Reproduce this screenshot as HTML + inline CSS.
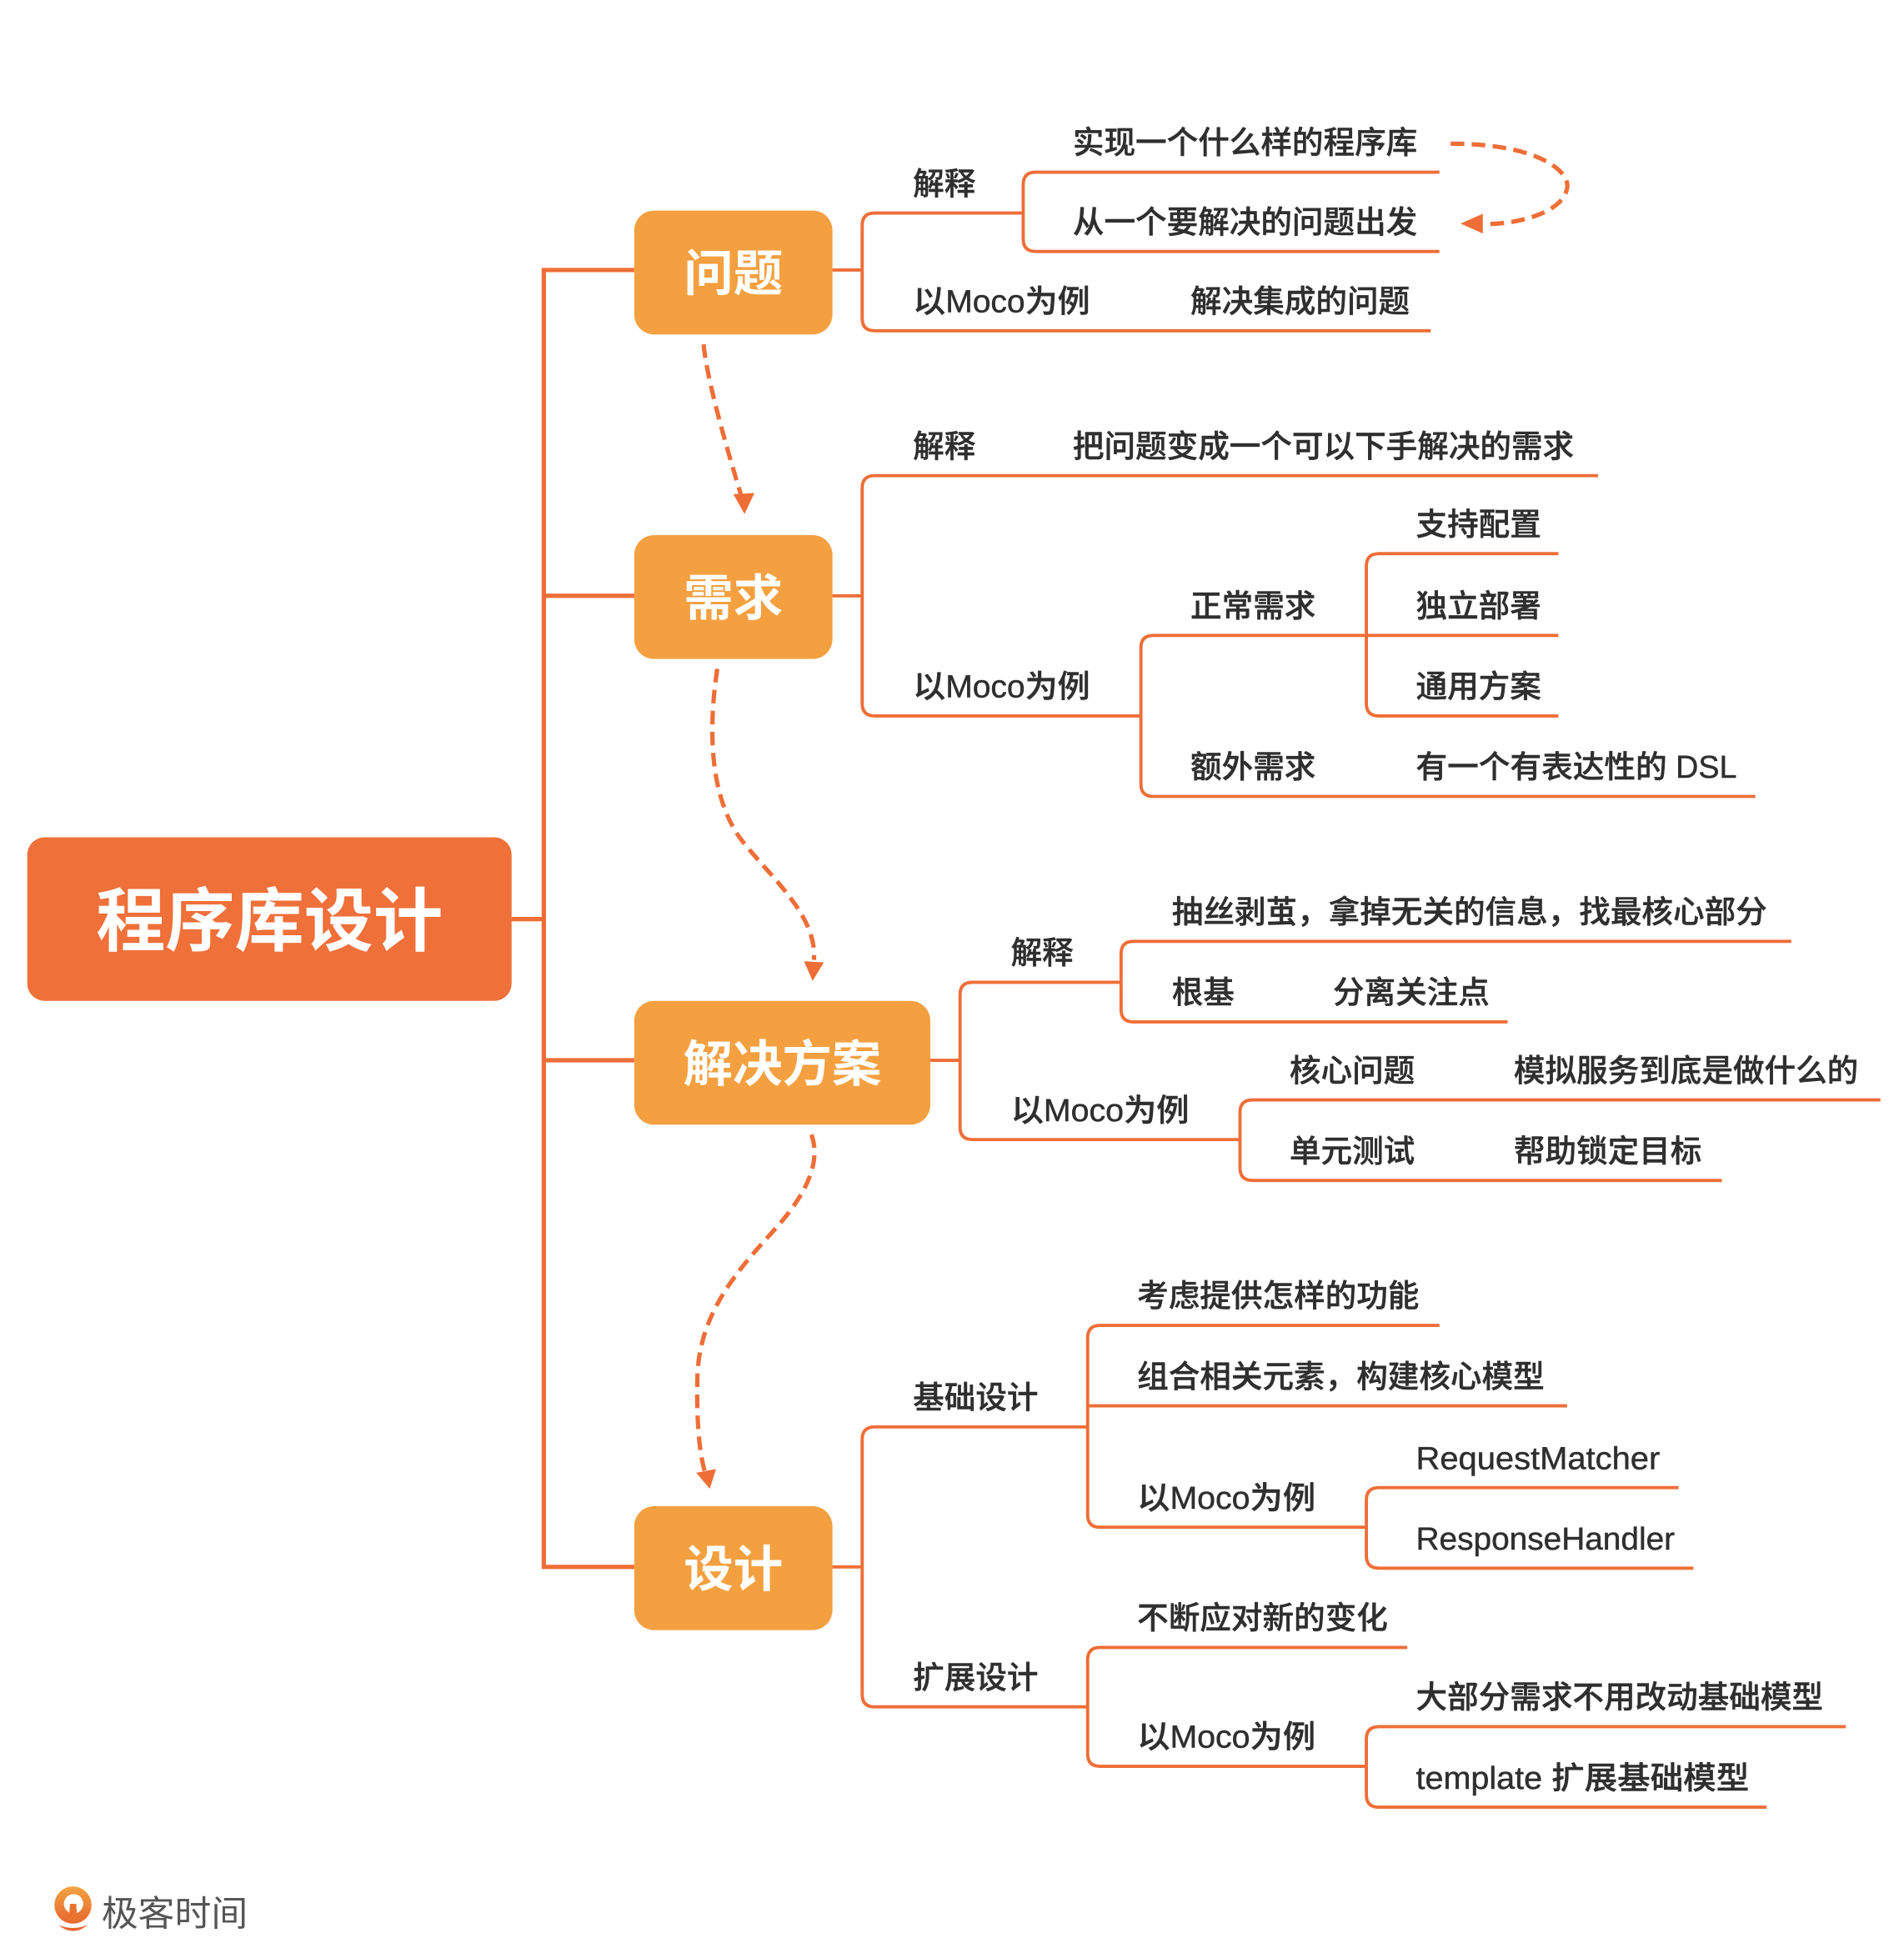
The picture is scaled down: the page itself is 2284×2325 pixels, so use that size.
<!DOCTYPE html>
<html><head><meta charset="utf-8">
<style>
html,body{margin:0;padding:0;background:#fff;}
svg{display:block;}
.t{font-family:"Liberation Sans","Noto Sans CJK SC",sans-serif;font-size:25.3px;fill:#2f2f2f;font-weight:500;stroke:#2f2f2f;stroke-width:0.3;}
.b{font-family:"Liberation Sans","Noto Sans CJK SC",sans-serif;fill:#fff;font-weight:700;text-anchor:middle;}
.ln{fill:none;stroke:#EF6E37;stroke-width:2.6;}
.tr{fill:none;stroke:#EF6E37;stroke-width:3.5;}
.da{fill:none;stroke:#EF6E37;stroke-width:3.5;stroke-dasharray:11 6;}
.ah{fill:#EF6E37;}
</style></head><body>
<svg width="2284" height="2325" viewBox="0 0 1537 1564.6" xmlns="http://www.w3.org/2000/svg">
<defs>
<linearGradient id="lg" x1="0" y1="0" x2="0" y2="1">
<stop offset="0" stop-color="#F2A444"/><stop offset="1" stop-color="#E8662E"/>
</linearGradient>
</defs>

<!-- trunk -->
<path class="tr" d="M413 742 H439 M512 218 H439 V1265 H512 M439 481 H512 M439 856 H512"/>

<!-- boxes -->
<rect x="22" y="676" width="391" height="132" rx="14" fill="#F0703A"/>
<rect x="512" y="170" width="160" height="100" rx="16" fill="#F4A040"/>
<rect x="512" y="432" width="160" height="100" rx="16" fill="#F4A040"/>
<rect x="512" y="808" width="239" height="100" rx="16" fill="#F4A040"/>
<rect x="512" y="1216" width="160" height="100" rx="16" fill="#F4A040"/>

<text class="b" x="217.5" y="763" style="font-size:56px">程序库设计</text>
<text class="b" x="592" y="235" style="font-size:40px">问题</text>
<text class="b" x="592" y="497" style="font-size:40px">需求</text>
<text class="b" x="631.5" y="873" style="font-size:40px">解决方案</text>
<text class="b" x="592" y="1281" style="font-size:40px">设计</text>

<!-- branch lines -->
<path class="ln" d="M672 218 H696 M826 172 H706 Q696 172 696 182 V257 Q696 267 706 267 H1155"/>
<path class="ln" d="M1162 139 H836 Q826 139 826 149 V193 Q826 203 836 203 H1162"/>

<path class="ln" d="M672 481 H696 M1290 384 H706 Q696 384 696 394 V568 Q696 578 706 578 H921"/>
<path class="ln" d="M1258 513 H931 Q921 513 921 523 V633 Q921 643 931 643 H1417"/>
<path class="ln" d="M1258 447 H1113 Q1103 447 1103 457 V568 Q1103 578 1113 578 H1258"/>

<path class="ln" d="M751 856 H775 M905 793 H785 Q775 793 775 803 V910 Q775 920 785 920 H1001"/>
<path class="ln" d="M1446 760 H915 Q905 760 905 770 V815 Q905 825 915 825 H1217"/>
<path class="ln" d="M1518 888 H1011 Q1001 888 1001 898 V943 Q1001 953 1011 953 H1390"/>

<path class="ln" d="M672 1265 H696 M878 1152 H706 Q696 1152 696 1162 V1368 Q696 1378 706 1378 H878"/>
<path class="ln" d="M1162 1070 H888 Q878 1070 878 1080 V1223 Q878 1233 888 1233 H1103 M878 1135 H1265"/>
<path class="ln" d="M1355 1201 H1113 Q1103 1201 1103 1211 V1256 Q1103 1266 1113 1266 H1367"/>
<path class="ln" d="M1136 1330 H888 Q878 1330 878 1340 V1416 Q878 1426 888 1426 H1103"/>
<path class="ln" d="M1490 1394 H1113 Q1103 1394 1103 1404 V1449 Q1103 1459 1113 1459 H1426"/>

<!-- dashed arrows -->
<path class="da" d="M1171 116 C1245 116 1268 140 1265 152 C1262 170 1230 181 1197 181"/>
<polygon class="ah" points="1179,180.5 1197,172.5 1197,188.5"/>

<path class="da" d="M568 278 C570 300 580 340 598 399"/>
<polygon class="ah" points="592,399 609,398 601,415"/>

<path class="da" d="M579 540 C570 600 576 650 600 680 S660 740 657 775"/>
<polygon class="ah" points="649,776 665,777 656,792"/>

<path class="da" d="M655 916 C662 935 655 960 625 993 S565 1060 563 1110 C562 1150 565 1175 569 1188"/>
<polygon class="ah" points="562,1189 578,1186 573,1202"/>

<!-- texts: 问题 -->
<text class="t" x="737" y="157">解释</text>
<text class="t" x="866" y="124">实现一个什么样的程序库</text>
<text class="t" x="866" y="188">从一个要解决的问题出发</text>
<text class="t" x="737" y="252" textLength="143" lengthAdjust="spacingAndGlyphs">以Moco为例</text>
<text class="t" x="961" y="252">解决集成的问题</text>

<!-- 需求 -->
<text class="t" x="737" y="369">解释</text>
<text class="t" x="866" y="369">把问题变成一个可以下手解决的需求</text>
<text class="t" x="737" y="563" textLength="143" lengthAdjust="spacingAndGlyphs">以Moco为例</text>
<text class="t" x="961" y="498">正常需求</text>
<text class="t" x="1143" y="432">支持配置</text>
<text class="t" x="1143" y="498">独立部署</text>
<text class="t" x="1143" y="563">通用方案</text>
<text class="t" x="961" y="628">额外需求</text>
<text class="t" x="1143" y="628" textLength="259" lengthAdjust="spacingAndGlyphs">有一个有表达性的 DSL</text>

<!-- 解决方案 -->
<text class="t" x="816" y="778">解释</text>
<text class="t" x="946" y="745">抽丝剥茧，拿掉无关的信息，找最核心部分</text>
<text class="t" x="946" y="810">根基</text>
<text class="t" x="1076" y="810">分离关注点</text>
<text class="t" x="816" y="905" textLength="144" lengthAdjust="spacingAndGlyphs">以Moco为例</text>
<text class="t" x="1041" y="873">核心问题</text>
<text class="t" x="1222" y="873">模拟服务到底是做什么的</text>
<text class="t" x="1041" y="938">单元测试</text>
<text class="t" x="1222" y="938">帮助锁定目标</text>

<!-- 设计 -->
<text class="t" x="737" y="1137">基础设计</text>
<text class="t" x="918" y="1055">考虑提供怎样的功能</text>
<text class="t" x="918" y="1120">组合相关元素，构建核心模型</text>
<text class="t" x="918" y="1218" textLength="144" lengthAdjust="spacingAndGlyphs">以Moco为例</text>
<text class="t" x="1143" y="1186" textLength="197" lengthAdjust="spacingAndGlyphs">RequestMatcher</text>
<text class="t" x="1143" y="1251" textLength="209" lengthAdjust="spacingAndGlyphs">ResponseHandler</text>
<text class="t" x="737" y="1363">扩展设计</text>
<text class="t" x="918" y="1315">不断应对新的变化</text>
<text class="t" x="918" y="1411" textLength="144" lengthAdjust="spacingAndGlyphs">以Moco为例</text>
<text class="t" x="1143" y="1379">大部分需求不用改动基础模型</text>
<text class="t" x="1143" y="1444" textLength="269" lengthAdjust="spacingAndGlyphs">template 扩展基础模型</text>

<!-- logo -->
<circle cx="58.9" cy="1538" r="15" fill="url(#lg)"/>
<circle cx="59.4" cy="1537" r="7.8" fill="#fff"/>
<polygon points="56.5,1537 61.5,1537 62.5,1551 55.5,1551" fill="#E9732F"/>
<path d="M47 1554 Q59 1564 71 1554 Q59 1559 47 1554 Z" fill="#E8662E"/>
<text x="82" y="1555" textLength="118" lengthAdjust="spacingAndGlyphs" style="font-family:'Liberation Sans','Noto Sans CJK SC',sans-serif;font-size:28.5px;fill:#555;">极客时间</text>
</svg>
</body></html>
